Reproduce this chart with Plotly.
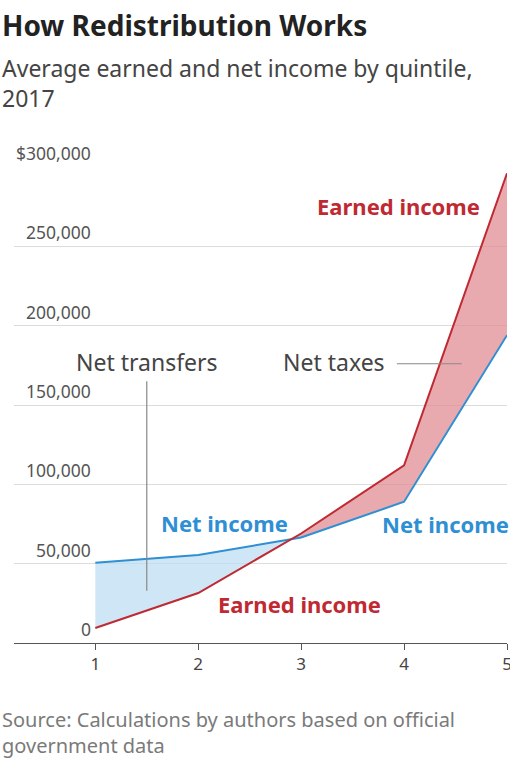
import plotly.graph_objects as go

# Average income by quintile, 2017
quintiles = [1, 2, 3, 4, 5]
earned_income = [9500, 31500, 69000, 112000, 296000]
net_income = [50500, 55500, 66500, 89000, 194000]
y_ticks = [0, 50000, 100000, 150000, 200000, 250000, 300000]
y_tick_labels = ["0", "50,000", "100,000", "150,000", "200,000", "250,000", "$300,000"]

RED = "#bf2a32"
BLUE = "#2f8fd3"
RED_FILL = "rgba(226,142,148,0.75)"
BLUE_FILL = "rgba(190,222,243,0.75)"
FONT = "Noto Sans"

# locate where the two series cross
cross_x = cross_y = None
for i in range(len(quintiles) - 1):
    d0 = net_income[i] - earned_income[i]
    d1 = net_income[i + 1] - earned_income[i + 1]
    if d0 * d1 < 0:
        t = d0 / (d0 - d1)
        cross_x = quintiles[i] + t * (quintiles[i + 1] - quintiles[i])
        cross_y = net_income[i] + t * (net_income[i + 1] - net_income[i])
        k = i
        break

# net transfers region (net above earned)
bx = quintiles[:k + 1] + [cross_x] + quintiles[:k + 1][::-1]
by = net_income[:k + 1] + [cross_y] + earned_income[:k + 1][::-1]
# net taxes region (earned above net)
rx = [cross_x] + quintiles[k + 1:] + quintiles[k + 1:][::-1] + [cross_x]
ry = [cross_y] + earned_income[k + 1:] + net_income[k + 1:][::-1] + [cross_y]

fig = go.Figure()
fig.add_trace(go.Scatter(x=bx, y=by, fill="toself", fillcolor=BLUE_FILL,
                         line=dict(width=0), mode="lines", hoverinfo="skip"))
fig.add_trace(go.Scatter(x=rx, y=ry, fill="toself", fillcolor=RED_FILL,
                         line=dict(width=0), mode="lines", hoverinfo="skip"))
fig.add_trace(go.Scatter(x=quintiles, y=net_income, mode="lines",
                         line=dict(color=BLUE, width=2), name="Net income"))
fig.add_trace(go.Scatter(x=quintiles, y=earned_income, mode="lines",
                         line=dict(color=RED, width=2), name="Earned income"))

# leader lines
fig.add_shape(type="line", x0=1.5, x1=1.5, y0=33000, y1=165000,
              line=dict(color="#888888", width=1.2))
fig.add_shape(type="line", x0=3.93, x1=4.56, y0=176000, y1=176000,
              line=dict(color="#888888", width=1.2))

ann = []
# y tick labels sit above their gridlines
for v, lab in zip(y_ticks, y_tick_labels):
    ann.append(dict(x=0.156, xref="paper", y=v, yref="y", text=lab,
                    showarrow=False, xanchor="right", yanchor="bottom",
                    xshift=2, font=dict(family=FONT, size=17.5, color="#555555")))

def label(x, y, text, color, size, bold=False, xanchor="center"):
    t = f"<b>{text}</b>" if bold else text
    ann.append(dict(x=x, y=y, xref="x", yref="y", text=t, showarrow=False,
                    xanchor=xanchor, yanchor="middle",
                    font=dict(family=FONT, size=size, color=color)))

label(4.76, 275500, "Earned income", RED, 22, bold=True, xanchor="right")
label(3.32, 177000, "Net taxes", "#444444", 23)
label(1.5, 177000, "Net transfers", "#444444", 23)
label(2.26, 75700, "Net income", BLUE, 22, bold=True)
label(4.40, 75000, "Net income", BLUE, 22, bold=True)
label(2.98, 24600, "Earned income", RED, 22, bold=True)

PT, PH = 167, 476
def py(pix):
    return (PT + PH - pix) / PH

ann.append(dict(x=0, xref="paper", xshift=-14, y=py(25), yref="paper",
                text="<b>How Redistribution Works</b>", showarrow=False,
                xanchor="left", yanchor="middle",
                font=dict(family=FONT, size=28, color="#222222")))
ann.append(dict(x=0, xref="paper", xshift=-14, y=py(83.5), yref="paper",
                text="Average earned and net income by quintile,<br>2017",
                showarrow=False, xanchor="left", yanchor="middle", align="left",
                font=dict(family=FONT, size=23, color="#444444")))
ann.append(dict(x=0, xref="paper", xshift=-14, y=py(732), yref="paper",
                text="Source: Calculations by authors based on official<br>government data",
                showarrow=False, xanchor="left", yanchor="middle", align="left",
                font=dict(family=FONT, size=20, color="#7a7a7a")))

fig.update_layout(
    width=510, height=760,
    margin=dict(l=14, r=3, t=PT, b=760 - PT - PH),
    paper_bgcolor="white", plot_bgcolor="white",
    showlegend=False,
    annotations=ann,
    xaxis=dict(range=[0.21, 5.0], tickvals=quintiles, ticktext=[str(q) for q in quintiles],
               showgrid=False, zeroline=False, showline=True, linecolor="#555555",
               linewidth=1, ticks="outside", ticklen=6, tickcolor="#555555",
               ticklabeloverflow="allow", automargin=False,
               tickfont=dict(family=FONT, size=17, color="#444444")),
    yaxis=dict(range=[0, 300000], tickvals=y_ticks, showticklabels=False,
               showgrid=True, gridcolor="#dcdcdc", gridwidth=1, zeroline=False,
               ticks="", automargin=False),
)

fig.write_html("out.html")
